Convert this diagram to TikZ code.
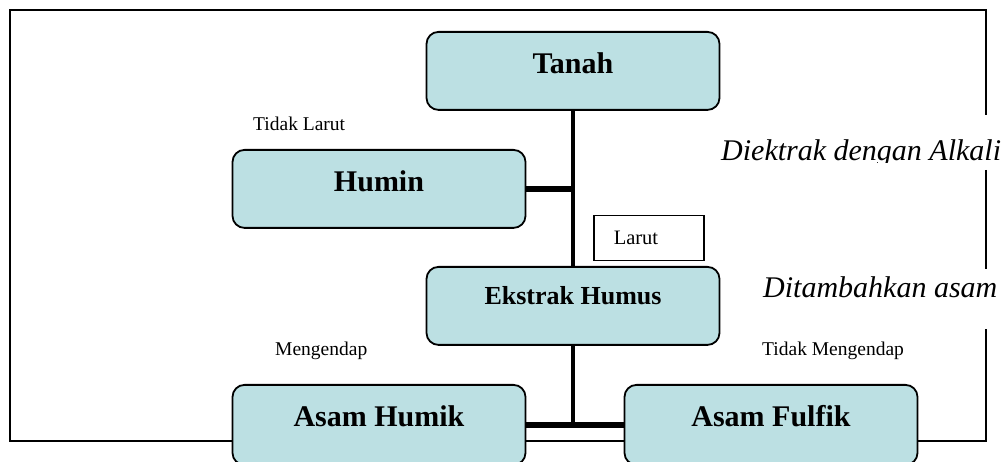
\documentclass[tikz,border=0pt]{standalone}
\usepackage{fontspec}
\setmainfont{Liberation Serif}
\begin{document}
\begin{tikzpicture}[x=1pt,y=-1pt,
  orgbox/.style={draw=black, line width=1.8pt, fill=boxfill, rounded corners=12pt,
    minimum width=293pt, inner ysep=0pt, text height=42pt, text depth=36pt,
    font=\bfseries\fontsize{30}{34}\selectfont, anchor=north},
  smalltxt/.style={font=\fontsize{19.5}{22}\selectfont, anchor=base west, inner sep=0pt},
  bigital/.style={font=\itshape\fontsize{30}{34}\selectfont, anchor=base west, inner sep=0pt},
  thickv/.style={line width=4.5pt},
  thickh/.style={line width=6pt},
  frameline/.style={line width=1.6pt}]
\definecolor{boxfill}{RGB}{188,224,227}
\useasboundingbox (0,0) rectangle (1002,462);
% outer frame
\draw[frameline] (986,115) -- (986,10) -- (10,10) -- (10,441) -- (986,441) -- (986,329);
\draw[frameline] (986,170) -- (986,269);
% boxes
\node[orgbox] (tanah) at (573,31) {Tanah};
\node[orgbox] (humin) at (379,149) {Humin};
\node[orgbox, text height=38pt, text depth=40pt, font=\bfseries\fontsize{26}{30}\selectfont] (ekstrak) at (573,266) {Ekstrak Humus};
\node[orgbox, text depth=38pt] (humik) at (379,384) {Asam Humik};
\node[orgbox, text depth=38pt] (fulfik) at (771,384) {Asam Fulfik};
\node[draw=black, line width=1.5pt, fill=white, minimum width=110pt, minimum height=45pt,
  text width=70pt, align=left, inner xsep=20pt, font=\fontsize{20.5}{23}\selectfont,
  anchor=north west] (larut) at (593,215) {Larut};
% connectors
\draw[thickv] (tanah.south) -- (ekstrak.north);
\draw[thickh] (humin.east) -- (humin.east -| tanah.south);
\draw[thickv] (ekstrak.south) -- ([yshift=3pt]ekstrak.south |- humik.east);
\draw[thickh] (humik.east) -- (fulfik.west);
% labels
\node[smalltxt] (tl) at (253,130.7) {Tidak Larut};
\node[smalltxt] (me) at (275,355.7) {Mengendap};
\node[smalltxt] (tm) at (762,355.7) {Tidak Mengendap};
\begin{scope}
\clip (700,120) rectangle (1002,162.5);
\node[bigital] (alk) at (721,161) {Diektrak dengan Alkali};
\end{scope}
\node[bigital] (asm) at (763,298) {Ditambahkan asam};
\end{tikzpicture}
\end{document}
